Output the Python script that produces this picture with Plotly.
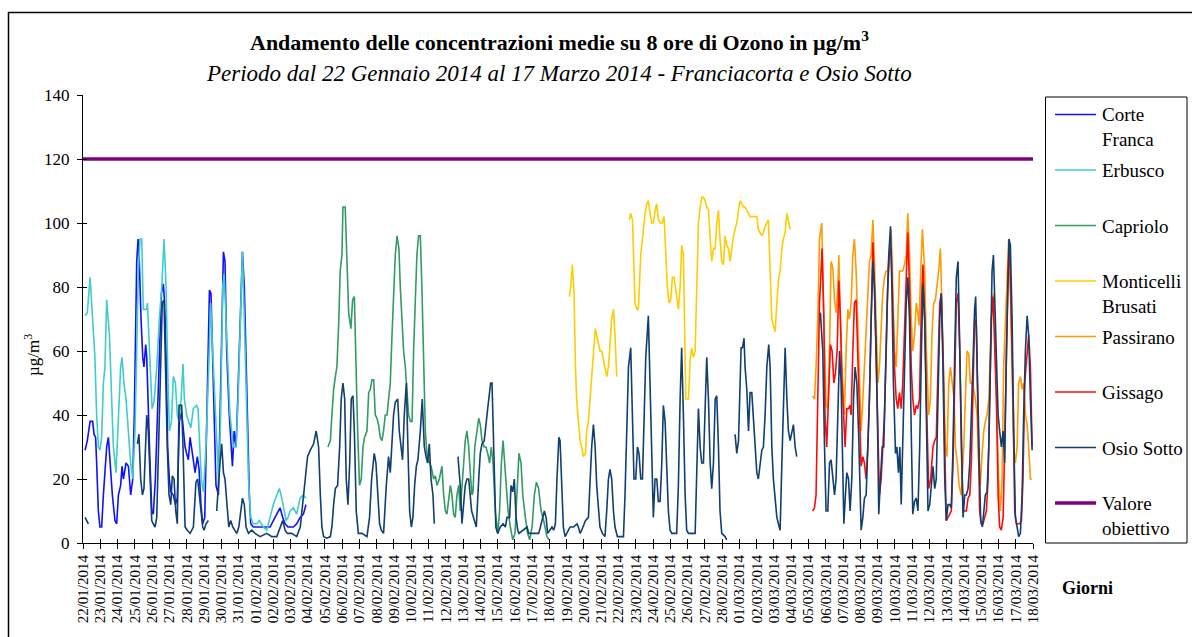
import pandas as pd
import plotly.graph_objects as go

# ---------------------------------------------------------------------------
# Ozone, 8-hour running means (µg/m3). Each station is a list of
# (days since 22/01/2014 00:00, value); None marks a gap in the record.
# ---------------------------------------------------------------------------
START = pd.Timestamp("2014-01-22")
END = pd.Timestamp("2014-03-18")

CORTE_FRANCA = [(0.12,29),(0.25,32),(0.41,38),(0.56,38),(0.64,34),(0.73,33),(0.79,25),(0.89,10),(0.98,5),(1.08,5),(1.18,15),(1.29,25),(1.37,30),(1.47,33),(1.56,25),(1.70,15),(1.85,7),(1.95,6),(2.05,15),(2.18,18),(2.26,24),(2.34,20),(2.49,25),(2.63,24),(2.76,15),(2.88,20),(2.97,40),(3.11,88),(3.19,95),(3.26,88),(3.36,70),(3.46,58),(3.53,55),(3.63,62),(3.69,58),(3.78,40),(3.88,25),(3.98,10),(4.07,9),(4.19,20),(4.31,40),(4.42,60),(4.54,78),(4.65,81),(4.73,75),(4.81,60),(4.90,30),(5.00,20),(5.08,16),(5.23,15),(5.35,12),(5.46,14),(5.58,38),(5.71,41),(5.81,35),(5.91,30),(6.00,28),(6.10,26),(6.20,33),(6.29,30),(6.39,26),(6.49,22),(6.62,27),(6.72,23),(6.83,12),(6.93,6),(7.05,8),(7.16,40),(7.32,79),(7.41,78),(7.51,55),(7.63,30),(7.70,18),(7.84,15),(7.93,40),(8.03,70),(8.13,91),(8.22,88),(8.32,60),(8.47,40),(8.59,30),(8.65,24),(8.75,35),(8.86,30),(8.96,45),(9.09,65),(9.23,91),(9.34,80),(9.48,45),(9.63,15),(9.71,6),(9.86,5),(10.25,5),(10.64,5),(10.83,5),(11.02,7),(11.22,9),(11.41,11),(11.56,8),(11.70,6),(11.87,5),(12.18,5),(12.37,6),(12.57,8),(12.76,9),(12.91,12)]

ERBUSCO = [(0.12,71),(0.25,72),(0.41,83),(0.56,70),(0.69,58),(0.79,40),(0.89,30),(0.98,29),(1.08,33),(1.18,50),(1.27,55),(1.37,76),(1.53,65),(1.66,45),(1.76,30),(1.91,22),(2.05,40),(2.18,55),(2.26,58),(2.37,50),(2.49,45),(2.63,35),(2.76,25),(2.88,20),(3.01,35),(3.11,60),(3.20,85),(3.30,95),(3.40,95),(3.49,73),(3.69,73),(3.73,75),(3.82,65),(3.92,55),(4.00,42),(4.11,44),(4.27,55),(4.42,70),(4.56,80),(4.69,95),(4.81,80),(4.90,55),(5.00,35),(5.12,38),(5.23,52),(5.35,50),(5.46,40),(5.56,38),(5.68,45),(5.79,56),(5.87,45),(6.00,40),(6.12,38),(6.24,36),(6.39,42),(6.58,43),(6.66,42),(6.74,30),(6.85,20),(6.97,16),(7.12,30),(7.28,55),(7.39,75),(7.51,60),(7.63,45),(7.74,30),(7.86,18),(7.97,40),(8.09,80),(8.17,84),(8.32,65),(8.51,40),(8.71,30),(8.86,30),(8.98,45),(9.09,65),(9.23,91),(9.34,70),(9.48,45),(9.58,20),(9.71,8),(9.86,6),(10.06,6),(10.21,7),(10.44,5),(10.64,4),(10.83,8),(11.02,12),(11.22,15),(11.37,17),(11.51,14),(11.64,10),(11.76,7),(11.87,8),(11.99,10),(12.18,11),(12.37,9),(12.57,14),(12.76,15),(12.91,14)]

CAPRIOLO = [(14.18,30),(14.32,32),(14.41,40),(14.51,48),(14.61,52),(14.70,55),(14.80,68),(14.89,85),(14.99,90),(15.05,105),(15.18,105),(15.28,85),(15.38,72),(15.51,67),(15.61,76),(15.71,77),(15.80,55),(15.90,35),(16.01,18),(16.11,20),(16.21,30),(16.30,33),(16.44,35),(16.54,47),(16.63,48),(16.73,51),(16.83,51),(16.92,40),(17.02,39),(17.11,37),(17.21,33),(17.31,32),(17.40,35),(17.50,40),(17.60,40),(17.69,45),(17.79,50),(17.89,65),(17.98,80),(18.08,90),(18.18,96),(18.29,92),(18.37,80),(18.47,70),(18.56,60),(18.66,55),(18.76,45),(18.85,40),(18.95,38),(19.05,38),(19.14,60),(19.24,80),(19.33,90),(19.43,96),(19.53,96),(19.62,80),(19.72,55),(19.82,35),(19.91,28),(20.05,25),(20.15,24),(20.30,20),(20.40,21),(20.49,18),(20.63,20),(20.78,24),(20.88,15),(20.98,10),(21.07,9),(21.17,13),(21.27,18),(21.36,15),(21.46,9),(21.55,8),(21.65,15),(21.75,18),(21.84,10),(22.04,25),(22.13,32),(22.23,35),(22.33,30),(22.42,22),(22.52,15),(22.58,16),(22.68,30),(22.81,35),(22.91,39),(23.00,37),(23.10,32),(23.23,30),(23.33,30),(23.43,28),(23.54,25),(23.64,30),(23.74,25),(23.87,10),(24.01,3),(24.12,10),(24.22,25),(24.32,32),(24.41,25),(24.51,20),(24.61,10),(24.74,5),(24.88,1),(25.01,3),(25.13,15),(25.24,28),(25.36,25),(25.46,15),(25.61,8),(25.74,3),(25.86,1),(26.00,5),(26.13,15),(26.25,19),(26.38,17),(26.52,10),(26.67,7),(26.86,2),(26.98,1)]

MONTICELLI_BRUSATI = [(28.16,77),(28.24,80),(28.33,87),(28.43,78),(28.51,55),(28.58,45),(28.68,38),(28.78,32),(28.87,30),(28.97,27),(29.09,28),(29.16,35),(29.26,38),(29.36,45),(29.45,52),(29.51,57),(29.59,62),(29.66,67),(29.74,65),(29.84,62),(29.93,60),(30.03,60),(30.13,57),(30.22,54),(30.32,52),(30.42,55),(30.51,62),(30.61,70),(30.71,73),(30.80,65),(30.90,52),(31.20,None),(31.63,101),(31.71,103),(31.81,101),(31.87,90),(31.96,75),(32.06,73),(32.15,73),(32.21,80),(32.29,90),(32.39,95),(32.48,100),(32.54,103),(32.64,106),(32.73,107),(32.83,103),(32.93,100),(33.02,100),(33.12,104),(33.22,106),(33.31,101),(33.41,100),(33.53,100),(33.64,102),(33.76,90),(33.83,80),(33.93,75),(34.03,76),(34.12,83),(34.22,83),(34.37,77),(34.47,73),(34.57,80),(34.66,93),(34.76,90),(34.82,70),(34.90,45),(35.05,45),(35.15,57),(35.24,61),(35.34,58),(35.44,60),(35.53,80),(35.63,100),(35.73,105),(35.82,108),(35.92,108),(36.02,107),(36.11,105),(36.21,104),(36.31,95),(36.40,88),(36.50,92),(36.60,92),(36.69,100),(36.79,104),(36.88,95),(36.98,88),(37.08,87),(37.17,96),(37.27,93),(37.37,92),(37.46,88),(37.56,93),(37.66,96),(37.75,98),(37.85,100),(37.95,104),(38.04,107),(38.14,106),(38.24,105),(38.33,105),(38.43,104),(38.53,103),(38.62,102),(38.81,102),(39.01,102),(39.10,98),(39.20,97),(39.30,96),(39.39,97),(39.49,99),(39.59,100),(39.68,101),(39.78,85),(39.88,70),(39.97,68),(40.07,66),(40.17,75),(40.26,82),(40.36,85),(40.46,92),(40.55,95),(40.65,97),(40.75,103),(40.84,100),(40.94,98)]

PASSIRANO = [(42.25,46),(42.35,45),(42.44,55),(42.54,70),(42.64,95),(42.69,97),(42.77,100),(42.85,80),(42.93,60),(43.02,43),(43.12,42),(43.22,60),(43.31,88),(43.41,86),(43.51,76),(43.60,72),(43.70,80),(43.76,90),(43.85,70),(43.93,55),(44.03,45),(44.08,40),(44.18,60),(44.28,73),(44.37,70),(44.47,75),(44.57,90),(44.66,95),(44.76,85),(44.86,70),(44.95,50),(45.05,35),(45.15,45),(45.24,55),(45.34,70),(45.44,80),(45.53,88),(45.63,90),(45.73,101),(45.82,88),(45.92,70),(46.02,50),(46.11,55),(46.21,68),(46.30,78),(46.40,83),(46.50,85),(46.59,85),(46.69,93),(46.79,98),(46.88,80),(46.98,60),(47.08,55),(47.17,70),(47.27,85),(47.37,85),(47.46,85),(47.56,87),(47.66,90),(47.75,103),(47.85,90),(47.95,70),(48.04,60),(48.14,65),(48.24,75),(48.33,72),(48.40,68),(48.50,85),(48.60,98),(48.73,85),(48.83,60),(48.96,40),(49.06,45),(49.15,65),(49.25,75),(49.35,76),(49.44,80),(49.54,85),(49.64,92),(49.73,70),(49.83,50),(49.93,30),(50.02,27),(50.12,50),(50.22,55),(50.31,50),(50.43,45),(50.51,30),(50.62,25),(50.72,18),(50.85,15),(50.99,30),(51.08,45),(51.18,60),(51.28,59),(51.37,50),(51.47,50),(51.57,48),(51.66,45),(51.76,40),(51.86,25),(51.95,18),(52.05,28),(52.15,35),(52.24,38),(52.34,40),(52.44,45),(52.53,60),(52.63,75),(52.73,78),(52.82,60),(52.92,40),(53.01,20),(53.11,10),(53.21,20),(53.30,55),(53.40,70),(53.50,80),(53.59,95),(53.69,80),(53.79,50),(53.88,30),(53.98,25),(54.08,30),(54.17,50),(54.27,52),(54.37,48),(54.46,50),(54.56,40),(54.66,37),(54.75,30),(54.85,20),(54.95,20)]

GISSAGO = [(42.25,10),(42.35,11),(42.44,15),(42.54,45),(42.64,75),(42.73,85),(42.79,92),(42.89,70),(42.96,40),(43.06,30),(43.16,45),(43.27,62),(43.37,60),(43.47,50),(43.56,53),(43.66,60),(43.76,82),(43.85,70),(43.95,50),(44.03,38),(44.12,30),(44.22,42),(44.32,42),(44.41,43),(44.47,40),(44.57,60),(44.66,75),(44.76,76),(44.86,60),(44.95,40),(45.05,24),(45.15,27),(45.24,25),(45.34,20),(45.44,30),(45.53,45),(45.63,70),(45.73,94),(45.82,80),(45.92,60),(46.02,35),(46.11,15),(46.21,20),(46.30,30),(46.40,40),(46.50,60),(46.59,80),(46.69,90),(46.79,92),(46.88,75),(46.98,55),(47.08,45),(47.17,42),(47.27,47),(47.37,42),(47.46,50),(47.56,65),(47.66,82),(47.75,97),(47.85,80),(47.95,55),(48.04,45),(48.14,40),(48.24,43),(48.33,42),(48.43,45),(48.54,75),(48.63,87),(48.73,70),(48.83,45),(48.96,17),(49.08,20),(49.21,30),(49.31,32),(49.40,33),(49.50,55),(49.60,75),(49.69,78),(49.79,60),(49.89,30),(49.98,7),(50.08,8),(50.18,9),(50.27,10),(50.37,25),(50.47,55),(50.56,75),(50.66,78),(50.76,60),(50.85,30),(50.95,10),(51.05,10),(51.14,10),(51.24,14),(51.34,15),(51.43,25),(51.53,50),(51.62,70),(51.72,68),(51.82,40),(51.91,10),(52.01,6),(52.11,6),(52.20,8),(52.30,10),(52.40,20),(52.49,45),(52.59,70),(52.69,77),(52.78,60),(52.88,45),(52.98,15),(53.07,5),(53.17,4),(53.27,8),(53.36,30),(53.46,60),(53.56,85),(53.65,92),(53.75,70),(53.85,45),(53.94,10),(54.04,6),(54.13,6),(54.23,6),(54.33,7),(54.42,20),(54.52,50),(54.66,60),(54.75,65),(54.85,55),(54.95,30)]

OSIO_SOTTO = [(0.12,8),(0.31,6),(1.0,None),
    (3.15,31),(3.24,34),(3.34,20),(3.44,15),(3.53,17),(3.63,35),(3.69,40),(3.78,35),(3.88,20),(3.98,7),(4.07,6),(4.17,5),(4.27,8),(4.38,30),(4.50,55),(4.59,75),(4.69,76),(4.79,50),(4.88,30),(4.98,15),(5.08,12),(5.17,21),(5.27,20),(5.37,10),(5.46,6),(5.56,43),(5.71,43),(5.79,30),(5.91,5),(6.04,4),(6.20,3),(6.39,5),(6.54,19),(6.64,20),(6.74,15),(6.83,10),(6.93,5),(7.01,4),(7.12,6),(7.26,7),(7.50,None),
    (7.74,10),(7.84,20),(7.93,25),(8.03,31),(8.13,22),(8.22,20),(8.32,12),(8.44,5),(8.55,7),(8.67,5),(8.78,4),(8.90,3),(9.02,5),(9.13,10),(9.23,14),(9.34,12),(9.44,5),(9.58,3),(9.77,4),(9.96,3),(10.25,2),(10.64,3),(10.93,2),(11.22,2),(11.41,5),(11.56,7),(11.70,4),(11.83,3),(12.08,3),(12.37,2),(12.58,5),(12.77,15),(12.87,22),(13.00,27),(13.16,29),(13.35,31),(13.50,35),(13.64,30),(13.74,15),(13.83,5),(13.93,2),(14.12,1.5),(14.32,2),(14.41,5),(14.51,12),(14.61,17),(14.74,18),(14.86,30),(14.95,45),(15.05,50),(15.15,45),(15.24,20),(15.34,12),(15.44,25),(15.53,45),(15.63,46),(15.71,35),(15.82,10),(15.94,3),(16.15,3),(16.44,2),(16.59,8),(16.71,20),(16.86,28),(16.96,25),(17.06,15),(17.17,6),(17.27,4),(17.40,3),(17.56,18),(17.69,27),(17.79,22),(17.89,30),(17.98,40),(18.08,44),(18.22,45),(18.31,35),(18.41,30),(18.50,26),(18.60,40),(18.72,50),(18.81,30),(18.91,10),(19.01,5),(19.10,8),(19.20,18),(19.30,24),(19.39,26),(19.53,35),(19.64,45),(19.76,30),(19.86,27),(19.95,25),(20.05,31),(20.15,20),(20.26,15),(20.34,6),(21.0,None),
    (21.71,27),(21.84,18),(21.94,6),(22.04,12),(22.13,18),(22.23,20),(22.33,20),(22.50,10),(22.77,5),(22.91,20),(23.00,28),(23.10,31),(23.23,32),(23.43,42),(23.60,50),(23.68,50),(23.80,25),(23.90,5),(24.01,3),(24.16,5),(24.32,6),(24.45,5),(24.55,8),(24.70,8),(24.78,18),(24.88,16),(24.97,20),(25.07,8),(25.17,4),(25.24,3),(25.71,5),(25.80,3),(26.09,3),(26.38,3),(26.48,5),(26.61,8),(26.71,10),(26.81,8),(26.90,3),(27.02,4),(27.15,5),(27.25,4),(27.35,6),(27.44,20),(27.55,33),(27.62,32),(27.71,20),(27.81,5),(27.91,2),(28.00,3),(28.20,5),(28.40,5),(28.60,6),(28.68,5),(28.78,3),(28.87,4),(29.09,7),(29.26,8),(29.36,20),(29.45,30),(29.55,37),(29.65,30),(29.74,18),(29.84,10),(29.93,5),(30.07,3),(30.22,2),(30.32,10),(30.42,20),(30.51,23),(30.61,20),(30.71,10),(30.80,5),(30.94,2),(31.29,2),(31.38,15),(31.48,35),(31.58,55),(31.71,61),(31.81,40),(31.90,20),(32.00,20),(32.10,30),(32.19,28),(32.29,20),(32.39,20),(32.48,40),(32.58,58),(32.73,71),(32.83,50),(32.93,25),(33.02,8),(33.12,20),(33.22,20),(33.31,13),(33.41,13),(33.51,25),(33.60,43),(33.70,38),(33.80,25),(33.89,10),(33.99,4),(34.09,3),(34.37,3),(34.47,18),(34.57,45),(34.66,61),(34.76,40),(34.86,15),(34.95,4),(35.05,3),(35.44,3),(35.53,25),(35.63,42),(35.73,30),(35.82,25),(35.92,25),(36.02,45),(36.11,58),(36.21,45),(36.31,25),(36.40,17),(36.50,25),(36.60,45),(36.69,46),(36.79,30),(36.88,10),(36.98,3),(37.17,2),(37.27,1),(37.50,None),
    (37.75,34),(37.85,28),(37.95,32),(38.04,55),(38.10,61),(38.18,61),(38.27,64),(38.33,55),(38.43,48),(38.53,35),(38.62,47),(38.72,47),(38.81,40),(38.91,30),(39.01,22),(39.10,20),(39.20,25),(39.30,29),(39.39,30),(39.49,40),(39.59,55),(39.70,62),(39.78,55),(39.88,30),(39.97,20),(40.07,15),(40.17,8),(40.26,6),(40.36,4),(40.46,25),(40.55,45),(40.65,61),(40.75,45),(40.84,35),(40.94,32),(41.04,35),(41.13,37),(41.23,30),(41.32,27),(42.0,None),
    (42.69,72),(42.83,60),(42.93,30),(43.02,10),(43.12,10),(43.22,25),(43.31,26),(43.41,20),(43.51,15),(43.60,20),(43.70,45),(43.80,60),(43.89,50),(43.99,20),(44.05,6),(44.14,15),(44.22,22),(44.32,20),(44.41,10),(44.51,20),(44.61,45),(44.70,55),(44.80,50),(44.90,35),(44.97,15),(45.05,4),(45.15,8),(45.24,14),(45.34,15),(45.44,30),(45.53,45),(45.63,70),(45.73,88),(45.82,80),(45.92,60),(46.02,30),(46.07,9),(46.17,20),(46.27,30),(46.36,30),(46.46,55),(46.56,75),(46.65,90),(46.75,99),(46.83,80),(46.92,50),(47.04,28),(47.12,30),(47.21,22),(47.29,30),(47.37,12),(47.46,30),(47.56,55),(47.66,75),(47.75,83),(47.85,70),(47.95,35),(48.04,9),(48.14,13),(48.24,14),(48.34,10),(48.44,30),(48.54,60),(48.63,81),(48.73,70),(48.83,30),(48.92,10),(49.02,12),(49.12,20),(49.21,24),(49.31,17),(49.40,20),(49.50,45),(49.60,70),(49.69,78),(49.79,55),(49.89,20),(49.98,7),(50.08,12),(50.18,12),(50.27,11),(50.37,30),(50.47,60),(50.56,83),(50.66,88),(50.76,60),(50.85,30),(50.95,8),(51.05,15),(51.14,15),(51.24,17),(51.34,25),(51.43,40),(51.53,60),(51.62,73),(51.68,77),(51.78,55),(51.88,25),(51.97,7),(52.07,5),(52.15,10),(52.24,15),(52.34,16),(52.44,30),(52.53,55),(52.63,85),(52.71,90),(52.78,78),(52.88,55),(52.98,40),(53.07,35),(53.17,30),(53.27,35),(53.36,25),(53.46,60),(53.56,88),(53.61,95),(53.69,93),(53.79,70),(53.88,35),(53.98,8),(54.08,5),(54.17,2),(54.27,3),(54.37,15),(54.46,40),(54.56,60),(54.66,71),(54.75,65),(54.85,45),(54.95,29)]

# Target value for the protection of human health (µg/m3)
VALORE_OBIETTIVO = 120

STATIONS = [
    ("Corte Franca", "Corte<br>Franca", CORTE_FRANCA, "#1010FF"),
    ("Erbusco", "Erbusco", ERBUSCO, "#40CCCC"),
    ("Capriolo", "Capriolo", CAPRIOLO, "#349A66"),
    ("Monticelli Brusati", "Monticelli<br>Brusati", MONTICELLI_BRUSATI, "#FFCC00"),
    ("Passirano", "Passirano", PASSIRANO, "#FF9A00"),
    ("Gissago", "Gissago", GISSAGO, "#FF0A0A"),
    ("Osio Sotto", "Osio Sotto", OSIO_SOTTO, "#113F70"),
]
TARGET_COLOR = "#800080"

SERIF = "Liberation Serif"

# Plot-area frame in page pixels, used to place the hand-drawn legend
PL, PR, PT, PB = 83, 1033, 95, 543


def xp(px):
    return (px - PL) / (PR - PL)


def yp(py):
    return (PB - py) / (PB - PT)


def to_dates(series):
    return [START + pd.Timedelta(days=d) for d, _ in series]


fig = go.Figure()

for name, _, series, color in STATIONS:
    fig.add_trace(go.Scatter(
        x=to_dates(series), y=[v for _, v in series], mode="lines", name=name,
        line=dict(color=color, width=1.6), connectgaps=False, showlegend=False,
    ))

fig.add_trace(go.Scatter(
    x=[START, END], y=[VALORE_OBIETTIVO, VALORE_OBIETTIVO], mode="lines",
    name="Valore obiettivo", line=dict(color=TARGET_COLOR, width=3.5),
    showlegend=False,
))

# Inner halves of the crossing tick marks
fig.add_trace(go.Scatter(x=[], y=[], xaxis="x2", yaxis="y2", showlegend=False))

axis_common = dict(showgrid=False, zeroline=False, showline=True,
                   linecolor="black", linewidth=1, tickcolor="black",
                   tickwidth=1, ticklen=5, automargin=False)

fig.update_layout(
    width=1192, height=637,
    margin=dict(l=PL, r=1192 - PR, t=PT, b=637 - PB),
    paper_bgcolor="white", plot_bgcolor="white",
    font=dict(family=SERIF, color="black"),
    xaxis=dict(type="date", range=[START, END], dtick=86400000,
               tickformat="%d/%m/%Y", tickangle=-90, ticks="outside",
               tickfont=dict(family=SERIF, size=15, color="black"),
               **axis_common),
    yaxis=dict(range=[0, 140], dtick=20, ticks="outside",
               tickfont=dict(family=SERIF, size=17, color="black"),
               ticklabelstandoff=4, **axis_common),
    xaxis2=dict(type="date", range=[START, END], dtick=86400000,
                overlaying="x", anchor="y2", ticks="inside",
                showticklabels=False, showgrid=False, zeroline=False,
                tickcolor="black", ticklen=4),
    yaxis2=dict(range=[0, 140], dtick=20, overlaying="y", anchor="x2",
                ticks="inside", showticklabels=False, showgrid=False,
                zeroline=False, tickcolor="black", ticklen=4),
)

annotations = [
    dict(text="<b>Andamento delle concentrazioni medie su 8 ore di Ozono in µg/m<sup>3</sup></b>",
         x=xp(559), y=yp(41), font=dict(size=22)),
    dict(text="<i>Periodo dal 22 Gennaio 2014 al 17 Marzo 2014 - Franciacorta e Osio Sotto</i>",
         x=xp(559), y=yp(73), font=dict(size=23)),
    dict(text="µg/m<sup>3</sup>", x=xp(32), y=yp(355), textangle=-90,
         font=dict(size=17)),
    dict(text="<b>Giorni</b>", x=xp(1087), y=yp(588), font=dict(size=18)),
]

shapes = [
    # outer chart frame
    dict(type="rect", x0=xp(8.5), x1=xp(1230), y0=yp(700), y1=yp(12.5),
         line=dict(color="black", width=1.5), layer="below"),
    # legend box
    dict(type="rect", x0=xp(1045.5), x1=xp(1187), y0=yp(543), y1=yp(97),
         line=dict(color="black", width=1), fillcolor="white"),
]

legend_rows = [(label, color, 1.6) for _, label, _, color in STATIONS]
legend_rows.append(("Valore<br>obiettivo", TARGET_COLOR, 3.5))
for i, (label, color, width) in enumerate(legend_rows):
    yc = 114.5 + i * 55.5
    shapes.append(dict(type="line", x0=xp(1055), x1=xp(1096), y0=yp(yc), y1=yp(yc),
                       line=dict(color=color, width=width)))
    annotations.append(dict(text=label, x=xp(1100), y=yp(yc - 12), xanchor="left",
                            yanchor="top", align="left",
                            font=dict(size=19)))

for a in annotations:
    a.setdefault("xref", "paper")
    a.setdefault("yref", "paper")
    a.setdefault("showarrow", False)
    a.setdefault("xanchor", "center")
    a.setdefault("yanchor", "middle")
for s in shapes:
    s["xref"] = "paper"
    s["yref"] = "paper"

fig.update_layout(annotations=annotations, shapes=shapes)

fig.write_html("out.html")
